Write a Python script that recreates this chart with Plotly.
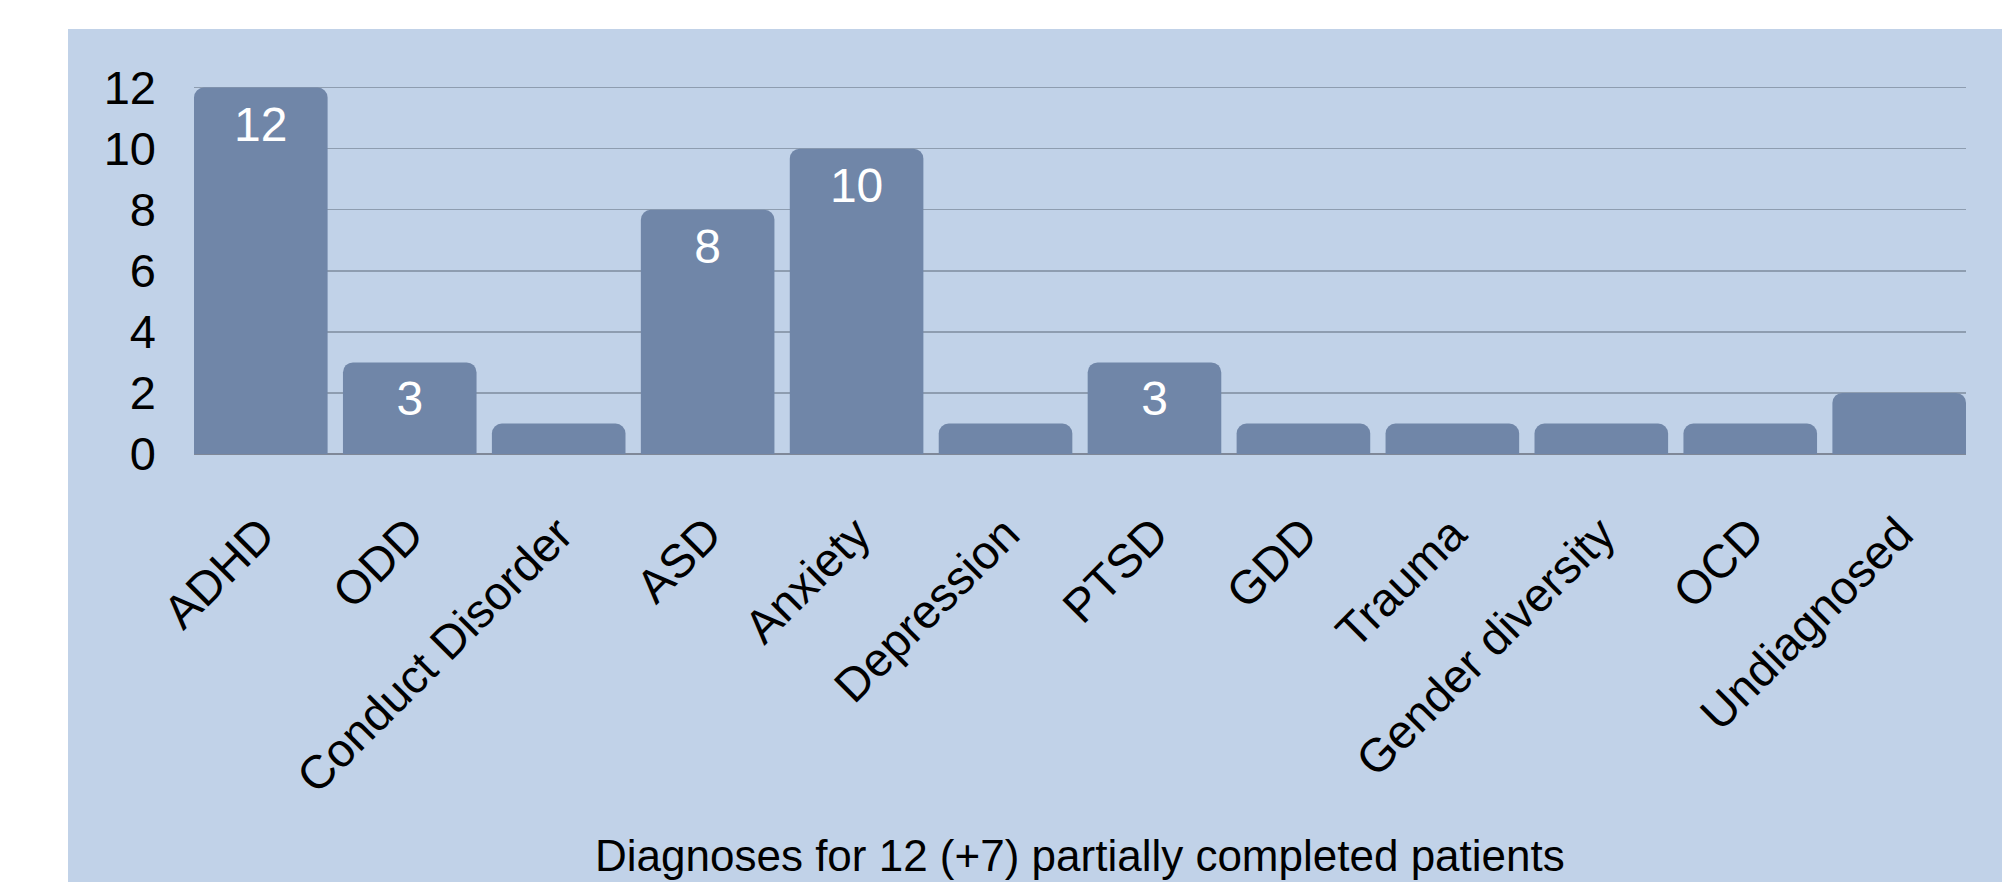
import plotly.graph_objects as go

categories = ["ADHD", "ODD", "Conduct Disorder", "ASD", "Anxiety", "Depression",
              "PTSD", "GDD", "Trauma", "Gender diversity", "OCD", "Undiagnosed"]
values = [12, 3, 1, 8, 10, 1, 3, 1, 1, 1, 1, 2]
bar_labels = ["12", "3", "", "8", "10", "", "3", "", "", "", "", ""]
y_ticks = [0, 2, 4, 6, 8, 10, 12]
x_title = "Diagnoses for 12 (+7) partially completed patients"

FONT = "Liberation Sans, Arial, sans-serif"
BG = "#C1D2E8"
BAR = "#7086A8"
GRID = "#8E9DB0"

W, H = 2002, 882
Y_MAX = 12.15
L, R, T, B = 194, 36, 83, 428
pw = W - L - R
ph = H - T - B

gap = 0.103

fig = go.Figure()
fig.add_trace(go.Bar(
    x=categories, y=values,
    text=bar_labels,
    textposition="inside",
    insidetextanchor="end",
    textangle=0,
    constraintext="none",
    textfont=dict(family=FONT, size=48, color="white"),
    marker=dict(color=BAR, line=dict(width=0), cornerradius=10),
    hoverinfo="skip",
))

fig.update_layout(
    width=W, height=H,
    margin=dict(l=L, r=R, t=T, b=B, pad=0),
    paper_bgcolor="white",
    plot_bgcolor=BG,
    bargap=gap,
    showlegend=False,
    font=dict(family=FONT, color="black"),
    shapes=[dict(
        type="rect", xref="paper", yref="paper", layer="below",
        x0=(68 - L) / pw, x1=(W - L) / pw,
        y0=(T + ph - H) / ph, y1=(T + ph - 29) / ph,
        fillcolor=BG, line=dict(width=0),
    )],
    annotations=[dict(
        text=x_title, xref="paper", yref="paper",
        x=0.5, y=(T + ph - 855) / ph, xanchor="center", yanchor="middle",
        showarrow=False, font=dict(family=FONT, size=44, color="black"),
    )],
)

fig.update_xaxes(
    type="category",
    range=[-0.5 + gap / 2, len(categories) - 0.5 - gap / 2],
    tickangle=-45,
    tickfont=dict(family=FONT, size=47, color="black"),
    showgrid=False, showline=False, ticks="",
    ticklabelstandoff=42,
)
fig.update_yaxes(
    range=[0, Y_MAX],
    tickvals=y_ticks,
    tickfont=dict(family=FONT, size=47, color="black"),
    showgrid=True, gridcolor=GRID, gridwidth=1.5,
    zeroline=True, zerolinecolor="#7F8898", zerolinewidth=2,
    showline=False, ticks="",
    ticklabelstandoff=37,
)

fig.write_html(
    "out.html",
    config={"displayModeBar": False, "staticPlot": True},
    post_script="document.body.style.margin='0px';document.body.style.overflow='hidden';",
)
